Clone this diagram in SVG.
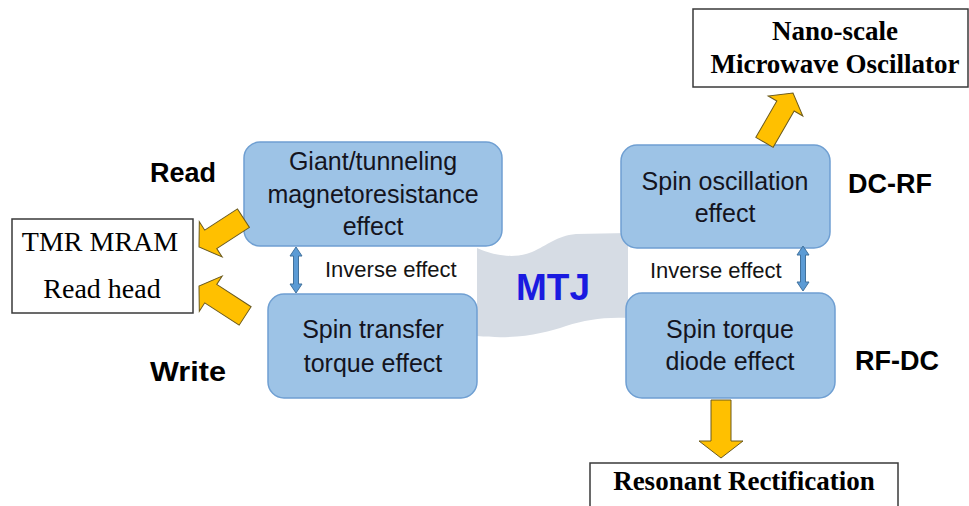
<svg xmlns="http://www.w3.org/2000/svg" width="969" height="506" viewBox="0 0 969 506">
  <style>
    .effect { fill: #9dc3e6; stroke: #6f9fd2; stroke-width: 1.5; }
    .app { fill: #ffffff; stroke: #3a3a3a; stroke-width: 1.5; }
    .fat { fill: #ffc000; stroke: #6b5a1e; stroke-width: 1; stroke-linejoin: miter; }
    .dbl { fill: #5b9bd5; stroke: #41719c; stroke-width: 1; }
    .lbl { font-family: "Liberation Sans", Arial, sans-serif; font-size: 25px; fill: #141420; text-anchor: middle; }
    .inv { font-family: "Liberation Sans", Arial, sans-serif; font-size: 22px; fill: #141414; }
    .mode { font-family: "Liberation Sans", Arial, sans-serif; font-size: 27px; font-weight: bold; fill: #000; }
    .ser { font-family: "Liberation Serif", "Times New Roman", serif; font-size: 28px; fill: #000; text-anchor: middle; }
    .serb { font-family: "Liberation Serif", "Times New Roman", serif; font-size: 27px; font-weight: bold; fill: #000; text-anchor: middle; }
  </style>

  <rect width="969" height="506" fill="#ffffff"/>

  <!-- MTJ banner in the middle -->
  <g id="mtj">
    <path d="M477,248 C495,256 515,259 532,252 C548,245 556,236 576,234 L628,233 L628,318 C602,317 586,320 566,326 C545,333 518,340 477,336 Z" fill="#d6dce4"/>
    <text x="553" y="300" font-family="Liberation Sans, Arial, sans-serif" font-size="37" font-weight="bold" fill="#1a1ae0" text-anchor="middle">MTJ</text>
  </g>

  <!-- effect nodes -->
  <g id="gmr">
    <rect class="effect" x="244" y="142" width="258" height="104" rx="16"/>
    <text class="lbl" x="373" y="170">Giant/tunneling</text>
    <text class="lbl" x="373" y="203">magnetoresistance</text>
    <text class="lbl" x="373" y="235">effect</text>
  </g>
  <g id="stt">
    <rect class="effect" x="268" y="294" width="209" height="104" rx="16"/>
    <text class="lbl" x="373" y="338">Spin transfer</text>
    <text class="lbl" x="373" y="372">torque effect</text>
  </g>
  <g id="sto">
    <rect class="effect" x="621" y="145" width="209" height="103" rx="16"/>
    <text class="lbl" x="725" y="190">Spin oscillation</text>
    <text class="lbl" x="725" y="222">effect</text>
  </g>
  <g id="std">
    <rect class="effect" x="626" y="293" width="209" height="105" rx="16"/>
    <text class="lbl" x="730" y="338">Spin torque</text>
    <text class="lbl" x="730" y="370">diode effect</text>
  </g>

  <!-- application nodes -->
  <g id="tmr">
    <rect class="app" x="12" y="219" width="181" height="94"/>
    <text class="ser" x="100" y="251">TMR MRAM</text>
    <text class="ser" x="102" y="298">Read head</text>
  </g>
  <g id="nano">
    <rect class="app" x="693" y="9" width="275" height="78"/>
    <text class="serb" x="835" y="40">Nano-scale</text>
    <text class="serb" x="835" y="73">Microwave Oscillator</text>
  </g>
  <g id="rect">
    <rect class="app" x="590" y="463" width="308" height="50"/>
    <text class="serb" x="744" y="490">Resonant Rectification</text>
  </g>

  <!-- side labels -->
  <g id="labels">
    <text class="mode" x="150" y="182">Read</text>
    <text class="mode" x="150" y="381" textLength="76" lengthAdjust="spacingAndGlyphs">Write</text>
    <text class="mode" x="848" y="193">DC-RF</text>
    <text class="mode" x="855" y="370">RF-DC</text>
    <text class="inv" x="325" y="277">Inverse effect</text>
    <text class="inv" x="650" y="278">Inverse effect</text>
  </g>

  <!-- connectors -->
  <g id="connectors">
    <!-- block arrows: tip at origin, pointing along +x -->
    <polygon class="fat" transform="translate(199,247) rotate(147)" points="-53,-11 -14,-11 -14,-21 0,0 -14,21 -14,11 -53,11"/>
    <polygon class="fat" transform="translate(199,286) rotate(213)" points="-55,-11 -14,-11 -14,-21 0,0 -14,21 -14,11 -55,11"/>
    <polygon class="fat" transform="translate(793,93) rotate(-60)" points="-57,-10 -15,-10 -15,-20 0,0 -15,20 -15,10 -57,10"/>
    <polygon class="fat" transform="translate(721,458) rotate(90)" points="-58,-10 -17,-10 -17,-22 0,0 -17,22 -17,10 -58,10"/>
    <!-- inverse-effect double arrows -->
    <polygon class="dbl" points="296,247 302,256 298.5,256 298.5,284 302,284 296,293 290,284 293.5,284 293.5,256 290,256"/>
    <polygon class="dbl" points="803,246 809,255 805.5,255 805.5,282 809,282 803,291 797,282 800.5,282 800.5,255 797,255"/>
  </g>
</svg>
